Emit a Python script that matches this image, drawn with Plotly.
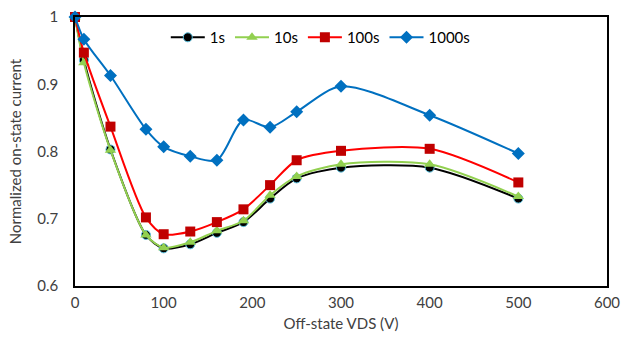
import plotly.graph_objects as go

vds = [0, 10, 40, 80, 100, 130, 160, 190, 220, 250, 300, 400, 500]
s1 = [1.0, 0.936, 0.803, 0.676, 0.656, 0.662, 0.679, 0.695, 0.730, 0.760, 0.776, 0.776, 0.730]
s10 = [1.0, 0.932, 0.802, 0.676, 0.657, 0.665, 0.682, 0.697, 0.735, 0.763, 0.781, 0.781, 0.733]
s100 = [1.0, 0.947, 0.837, 0.702, 0.677, 0.681, 0.695, 0.714, 0.750, 0.787, 0.801, 0.804, 0.754]
s1000 = [1.0, 0.967, 0.913, 0.833, 0.807, 0.793, 0.787, 0.847, 0.836, 0.859, 0.897, 0.854, 0.797]

x_ticks = [0, 100, 200, 300, 400, 500, 600]
y_ticks = [0.6, 0.7, 0.8, 0.9, 1.0]
y_tick_labels = ["0.6", "0.7", "0.8", "0.9", "1"]

FONT = "Lato"
TXT = "#404040"

fig = go.Figure()
series = [
    ("1s", s1, "#000000", dict(symbol="circle", size=9, color="#000000", line=dict(color="#5BC0DE", width=1))),
    ("10s", s10, "#92D050", dict(symbol="triangle-up", size=10, color="#92D050", line=dict(color="#92D050", width=0))),
    ("100s", s100, "#FF0000", dict(symbol="square", size=10, color="#C00000", line=dict(color="#C00000", width=0))),
    ("1000s", s1000, "#0070C0", dict(symbol="diamond", size=10, color="#0070C0", line=dict(color="#0070C0", width=0))),
]
for name, ys, lc, mk in series:
    fig.add_trace(go.Scatter(
        x=vds, y=ys, name=name, mode="lines+markers",
        line=dict(color=lc, width=2, shape="spline", smoothing=0.8),
        marker=mk, cliponaxis=False,
    ))

fig.update_layout(
    width=624, height=345,
    margin=dict(l=75, r=17, t=17, b=59, autoexpand=False),
    plot_bgcolor="white", paper_bgcolor="white",
    font=dict(family=FONT, size=15, color=TXT),
    showlegend=True,
    legend=dict(orientation="h", x=0.462, y=0.985, xanchor="center", yanchor="top",
                font=dict(family=FONT, size=15, color="#000000"),
                bgcolor="rgba(255,255,255,0)", itemwidth=34, tracegroupgap=0),
)
fig.update_xaxes(
    range=[0, 600], tickvals=x_ticks, ticktext=[str(v) for v in x_ticks],
    showgrid=False, zeroline=False, showline=True, linecolor="#000000", linewidth=1.5,
    mirror=True, ticks="", automargin=False, ticklabelstandoff=2, ticklabeloverflow="allow",
    tickfont=dict(family=FONT, size=15, color=TXT),
    title=dict(text="Off-state VDS (V)", font=dict(family=FONT, size=15, color=TXT), standoff=9),
)
fig.update_yaxes(
    range=[0.6, 1.0], tickvals=y_ticks, ticktext=y_tick_labels,
    showgrid=False, zeroline=False, showline=True, linecolor="#000000", linewidth=1.5,
    mirror=True, ticks="", automargin=False, ticklabelstandoff=12, ticklabeloverflow="allow",
    tickfont=dict(family=FONT, size=15, color=TXT),
    title=dict(text="Normalized on-state current", font=dict(family=FONT, size=15, color=TXT), standoff=12),
)

fig.write_html("out.html",
               config={"displayModeBar": False},
               post_script="document.body.style.margin='0';document.body.style.overflow='hidden';")
